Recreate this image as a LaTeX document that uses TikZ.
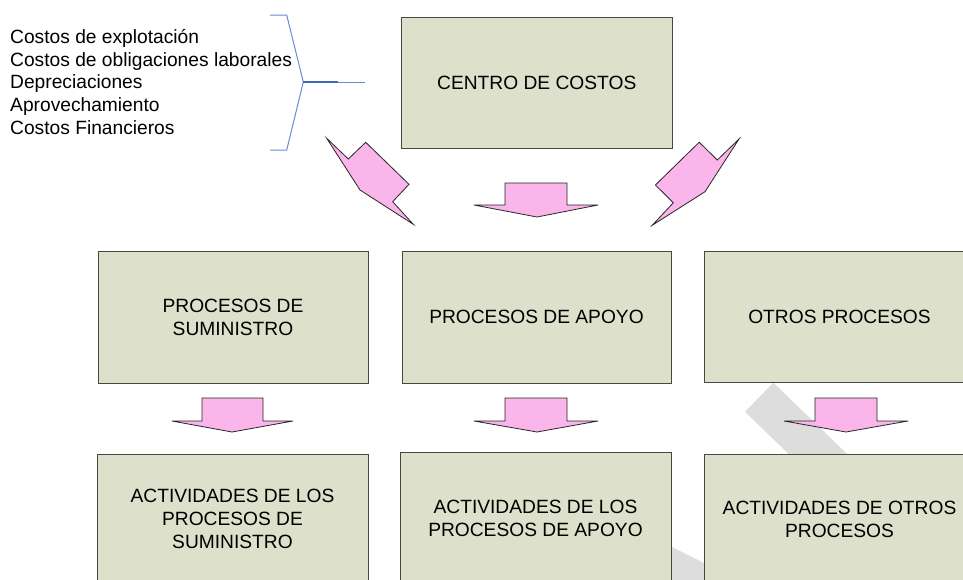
\documentclass[tikz,border=0pt]{standalone}
\usepackage{fontspec}
\setmainfont{Liberation Sans}
\definecolor{boxfill}{RGB}{221,224,203}
\definecolor{boxline}{RGB}{72,72,64}
\definecolor{arrfill}{RGB}{250,181,234}
\definecolor{wmgrey}{RGB}{221,221,221}
\definecolor{bracelt}{RGB}{96,142,212}
\definecolor{bracedk}{RGB}{58,106,184}
\newcommand\blockarr[8]{%
  \draw[arrshape] (#5,#4) -- (#1,#4) -- (#1,#3) -- (#2,#3) -- (#2,#4) -- (#6,#4) -- (#7,#8) -- cycle;}
\begin{document}
\begin{tikzpicture}[x=1pt,y=-1pt,
  procbox/.style={rectangle, inner sep=0pt, align=center, fill=boxfill, draw=boxline,
    line width=1pt, font=\fontsize{19.2}{23}\selectfont},
  listtxt/.style={anchor=base west, inner sep=0pt, font=\fontsize{19.2}{23}\selectfont},
  arrshape/.style={fill=arrfill, draw=black!85, line width=0.8pt, line join=miter}]
\useasboundingbox (0,0) rectangle (963,579);
\clip (0,0) rectangle (963,579);
% watermark
\fill[wmgrey] (745,411.7) -- (773.3,382.7) -- (900,505) -- (871,534) -- cycle;
\fill[wmgrey] (640,531) -- (740,581) -- (740,600) -- (640,600) -- cycle;
% list text
\node[listtxt] (l1) at (10,43.3) {Costos de explotación};
\node[listtxt] (l2) at (10,66.0) {Costos de obligaciones laborales};
\node[listtxt] (l3) at (10,88.7) {Depreciaciones};
\node[listtxt] (l4) at (10,111.4) {Aprovechamiento};
\node[listtxt] (l5) at (10,134.1) {Costos Financieros};
% brace
\draw[bracelt, line width=1pt] (270,15) -- (286.7,15) -- (303.3,82) -- (286.7,150) -- (270,150);
\draw[bracedk, line width=1.6pt] (303.3,82) -- (338,82);
\draw[bracelt, line width=1pt] (338,82) -- (365,82);
% boxes
\node[procbox, minimum width=270.5pt, minimum height=131pt] (cc) at (536.75,82.5) {CENTRO DE COSTOS};
\node[procbox, minimum width=270pt, minimum height=132pt] (ps) at (233,317) {PROCESOS DE\\SUMINISTRO};
\node[procbox, minimum width=269pt, minimum height=132pt] (pa) at (536.5,317) {PROCESOS DE APOYO};
\node[procbox, minimum width=271pt, minimum height=131pt] (op) at (839.5,316.5) {OTROS PROCESOS};
\node[procbox, minimum width=271pt, minimum height=130pt] (as) at (232.5,519) {ACTIVIDADES DE LOS\\PROCESOS DE\\SUMINISTRO};
\node[procbox, minimum width=271pt, minimum height=132pt] (aa) at (535.5,518) {ACTIVIDADES DE LOS\\PROCESOS DE APOYO};
\node[procbox, minimum width=271pt, minimum height=130pt] (ao) at (839.5,519) {ACTIVIDADES DE OTROS\\PROCESOS};
% tilted arrows
\draw[arrshape] (326.7,138.3) -- (348.3,159) -- (365.7,142.3) -- (409,184.3) -- (392.7,201.7) -- (413.3,224.3) -- (360,190) -- cycle;
\draw[arrshape] (739,139) -- (717.3,160) -- (699.2,142.2) -- (655.4,185) -- (673.3,202.8) -- (652.2,225.3) -- (705,191.7) -- cycle;
% down arrows
\blockarr{505}{567}{183}{205}{474}{598}{537}{217}
\blockarr{202}{263}{398}{421}{172}{293}{232}{432}
\blockarr{505}{567}{398}{421}{474}{598}{537}{432}
\blockarr{815}{877}{398}{421}{784}{908}{846}{432}
\end{tikzpicture}
\end{document}
